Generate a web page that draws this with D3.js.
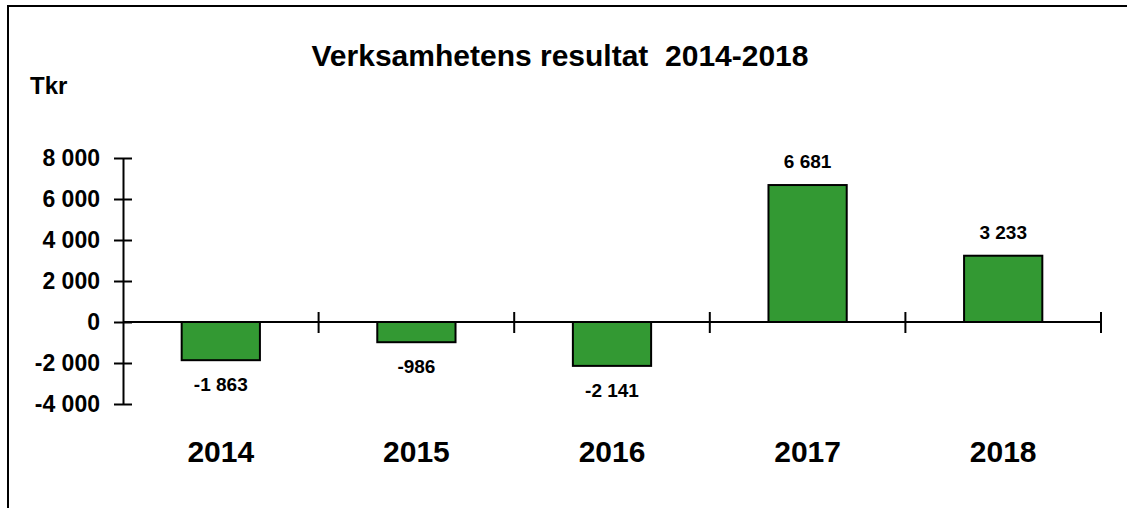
<!DOCTYPE html>
<html lang="sv">
<head>
<meta charset="UTF-8">
<title>Verksamhetens resultat</title>
<style>
    html, body { margin: 0; background: #fff; overflow: hidden; }
    svg { display: block; overflow: hidden; }
    text {
        font-family: Arial, "Liberation Sans", sans-serif;
        font-weight: bold;
        fill: #000;
        white-space: pre;
    }
    .axis path, .axis line { stroke: #000; stroke-width: 2; }
    .bar { fill: #339933; stroke: #000; stroke-width: 2; }
</style>
</head>
<body>
<svg id="chart" width="1127" height="508"></svg>
<script src="https://cdn.jsdelivr.net/npm/d3@7"></script>
<script>
    // data
    var years = ['2014', '2015', '2016', '2017', '2018'];
    var results = [-1863, -986, -2141, 6681, 3233];
    var yTicks = [-4000, -2000, 0, 2000, 4000, 6000, 8000];
    var title = 'Verksamhetens resultat  2014-2018';
    var unit = 'Tkr';

    var svg = d3.select('#chart');

    // frame, only left and top edges are inside the picture
    svg.append('path')
        .attr('d', 'M8,508V6H1127')
        .attr('fill', 'none').attr('stroke', '#000').attr('stroke-width', 2);

    var sv = d3.formatLocale({
        decimal: ',', thousands: ' ', grouping: [3],
        currency: ['', ''], minus: '-'
    });
    var fmt = sv.format(',d');

    var y = d3.scaleLinear()
        .domain([-4000, 8000])
        .range([404, 158]);

    var x = d3.scaleBand()
        .domain(years)
        .range([123, 1101])
        .paddingInner(0.6)
        .paddingOuter(0.3);

    // title + unit
    svg.append('text')
        .attr('x', 560).attr('y', 66)
        .attr('text-anchor', 'middle')
        .style('font-size', '30px')
        .text(title);

    svg.append('text')
        .attr('x', 30).attr('y', 94)
        .style('font-size', '24px')
        .text(unit);

    // bars
    svg.selectAll('.bar')
        .data(results)
        .enter()
        .append('rect')
        .attr('class', 'bar')
        .attr('x', (d, i) => x(years[i]))
        .attr('width', x.bandwidth())
        .attr('y', d => y(Math.max(0, d)))
        .attr('height', d => Math.abs(y(d) - y(0)));

    // value labels
    svg.selectAll('.val')
        .data(results)
        .enter()
        .append('text')
        .attr('class', 'val')
        .attr('text-anchor', 'middle')
        .style('font-size', '19px')
        .attr('x', (d, i) => x(years[i]) + x.bandwidth() / 2)
        .attr('y', d => d >= 0 ? y(d) - 17 : y(d) + 31)
        .text(d => fmt(d));

    // y axis, ticks cross the line
    var yAxis = svg.append('g')
        .attr('class', 'axis')
        .attr('transform', 'translate(123,0)')
        .call(d3.axisLeft(y).tickValues(yTicks).tickSize(9).tickSizeOuter(0).tickFormat(fmt));
    yAxis.selectAll('.tick line').attr('x1', 9).attr('x2', -9);
    yAxis.selectAll('.tick text')
        .attr('x', -23)
        .style('font-size', '23px')
        .style('font-family', 'Arial, "Liberation Sans", sans-serif');

    // x axis along zero with separators between categories
    var x0 = y(0);
    svg.append('line')
        .attr('x1', x.range()[0]).attr('x2', x.range()[1])
        .attr('y1', x0).attr('y2', x0)
        .attr('stroke', '#000').attr('stroke-width', 2);

    svg.selectAll('.sep')
        .data(years)
        .enter()
        .append('line')
        .attr('class', 'sep')
        .attr('x1', (d, i) => x.range()[0] + (i + 1) * x.step())
        .attr('x2', (d, i) => x.range()[0] + (i + 1) * x.step())
        .attr('y1', x0 - 10).attr('y2', x0 + 11)
        .attr('stroke', '#000').attr('stroke-width', 2);

    // category labels
    svg.selectAll('.cat')
        .data(years)
        .enter()
        .append('text')
        .attr('class', 'cat')
        .attr('text-anchor', 'middle')
        .style('font-size', '30px')
        .attr('x', d => x(d) + x.bandwidth() / 2)
        .attr('y', 462)
        .text(d => d);
</script>
</body>
</html>
